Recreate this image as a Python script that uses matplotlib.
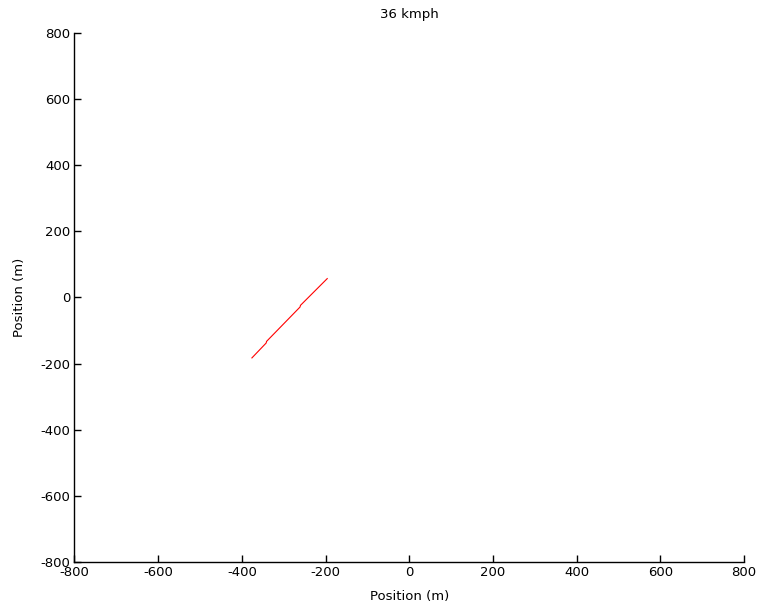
import matplotlib
matplotlib.use("Agg")
import matplotlib.pyplot as plt

# vehicle track (m)
track_x = [-376, -342, -341, -261, -260, -196]
track_y = [-183, -138, -133, -29, -24, 57]

title = "36 kmph"
ticks = [-800, -600, -400, -200, 0, 200, 400, 600, 800]

plt.rcParams["font.family"] = "DejaVu Sans"
plt.rcParams["axes.unicode_minus"] = False
fig = plt.figure(figsize=(7.6, 6.12), dpi=100)
ax = fig.add_axes([0.098, 0.082, 0.881, 0.864])

ax.plot(track_x, track_y, color="red", linewidth=0.8)

ax.set_xlim(-800, 800)
ax.set_ylim(-800, 800)
ax.set_xticks(ticks)
ax.set_yticks(ticks)
ax.tick_params(direction="in", length=5, width=1, labelsize=9.5, pad=3)
for s in ["top", "right"]:
    ax.spines[s].set_visible(False)
for s in ["left", "bottom"]:
    ax.spines[s].set_linewidth(1)

ax.set_title(title, fontsize=9.5, pad=11)
ax.set_xlabel("Position (m)", fontsize=9.5, labelpad=8)
ax.set_ylabel("Position (m)", fontsize=9.5, labelpad=10)

fig.savefig("out.png", dpi=100)
